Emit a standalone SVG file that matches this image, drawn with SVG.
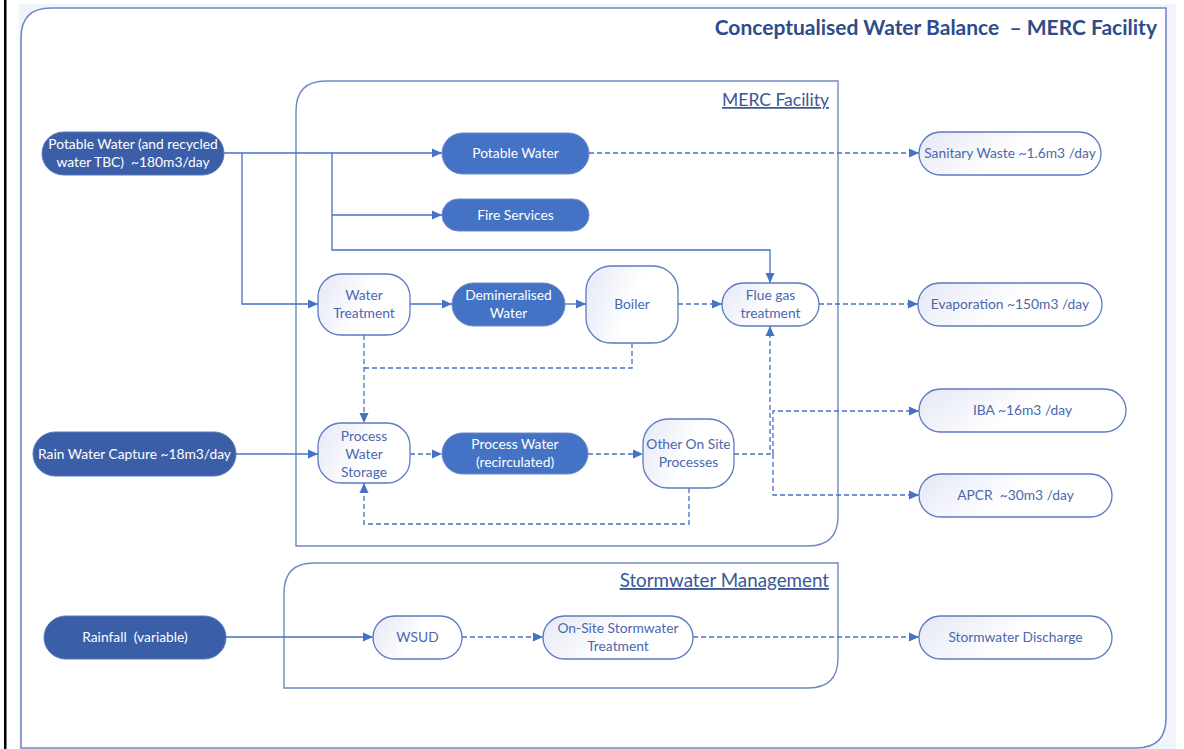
<svg xmlns="http://www.w3.org/2000/svg" width="1184" height="749" viewBox="0 0 1184 749">
<defs>
<style>
text{white-space:pre}
.frame{fill:none;stroke:#6f89c2;stroke-width:1.4}
.dark{fill:#3b5ea8;stroke:#5a78b8;stroke-width:1}
.mid{fill:#4472c4;stroke:#6a8bc9;stroke-width:1}
.light{fill:url(#lg);stroke:#5b7bc2;stroke-width:1.3}
.tw{font-family:Lato,"Open Sans","Liberation Sans",sans-serif;font-size:13.8px;fill:#ffffff;text-anchor:middle}
.tb{font-family:Lato,"Open Sans","Liberation Sans",sans-serif;font-size:13.8px;fill:#4a68ad;text-anchor:middle}
.lbl{font-family:Lato,"Open Sans","Liberation Sans",sans-serif;font-size:17.5px;fill:#3a5797;text-anchor:end;text-decoration:underline}
.c{fill:none;stroke:#4472c4;stroke-width:1.3}
.d{stroke-dasharray:5 3}
.a{marker-end:url(#arr)}
</style>
<linearGradient id="lg" x1="0" y1="0" x2="1" y2="0.3">
<stop offset="0" stop-color="#e4e7f5"/>
<stop offset="0.6" stop-color="#ffffff"/>
<stop offset="1" stop-color="#ffffff"/>
</linearGradient>
<marker id="arr" markerUnits="userSpaceOnUse" markerWidth="11" markerHeight="10" refX="10" refY="5" orient="auto">
<path d="M0,0.5 L10,5 L0,9.5 z" fill="#4472c4"/>
</marker>
</defs>
<rect x="0" y="0" width="1184" height="749" fill="#ffffff"/>
<rect x="19" y="4" width="1157" height="745" fill="#f1f4fa"/>
<rect x="4" y="0" width="2.5" height="749" fill="#000000"/>
<g id="frame-outer">
<path d="M51,8 H1166 V718 Q1166,748 1136,748 H21 V38 Q21,8 51,8 Z" fill="#ffffff" stroke="#7089c3" stroke-width="1.6"/>
<text x="1157" y="35" font-family="Lato,'Open Sans','Liberation Sans',sans-serif" font-size="21" font-weight="bold" fill="#2f4b8a" text-anchor="end">Conceptualised Water Balance  – MERC Facility</text>
</g>
<g id="merc-facility">
<path class="frame" d="M326,81 H838 V516 Q838,546 808,546 H296 V111 Q296,81 326,81 Z"/>
<text class="lbl" x="829" y="106">MERC Facility</text>
</g>
<g id="stormwater-management">
<path class="frame" d="M314,563 H838 V658 Q838,688 808,688 H284 V593 Q284,563 314,563 Z"/>
<text class="lbl" x="829" y="587" style="font-size:18.8px">Stormwater Management</text>
</g>
<g id="connectors">
<path class="c a" d="M224,153 H442"/>
<path class="c a" d="M242,153 V304 H318"/>
<path class="c a" d="M332,153 V250 H770 V283"/>
<path class="c a" d="M332,215 H442"/>
<path class="c a" d="M410,304 H452"/>
<path class="c a" d="M565,304 H586"/>
<path class="c d a" d="M678,304 H722"/>
<path class="c d a" d="M819,304 H918"/>
<path class="c d a" d="M589,153 H919"/>
<path class="c d a" d="M364,335 V423"/>
<path class="c d" d="M632,343 V368 H364"/>
<path class="c a" d="M236,454 H318"/>
<path class="c d a" d="M410,454 H442"/>
<path class="c d a" d="M588,454 H643"/>
<path class="c d a" d="M689,488 V524 H364 V483"/>
<path class="c d a" d="M734,454 H770 V326"/>
<path class="c d a" d="M773,454 V411 H919"/>
<path class="c d a" d="M773,454 V495 H919"/>
<path class="c a" d="M226,637 H373"/>
<path class="c d a" d="M462,637 H543"/>
<path class="c d a" d="M693,637 H919"/>
</g>
<g id="n-potable-source">
<rect class="dark" x="42" y="132" width="182" height="43" rx="21.5"/>
<text class="tw" x="133" y="149">Potable Water (and recycled</text>
<text class="tw" x="133" y="167">water TBC)  ~180m3/day</text>
</g>
<g id="n-rain-capture">
<rect class="dark" x="33" y="432" width="203" height="44" rx="22"/>
<text class="tw" x="134.5" y="459">Rain Water Capture ~18m3/day</text>
</g>
<g id="n-rainfall">
<rect class="dark" x="44" y="616" width="182" height="43" rx="21.5"/>
<text class="tw" x="135" y="642">Rainfall  (variable)</text>
</g>
<g id="n-potable">
<rect class="mid" x="442" y="133" width="147" height="41" rx="20.5"/>
<text class="tw" x="515.5" y="158">Potable Water</text>
</g>
<g id="n-fire">
<rect class="mid" x="442" y="199" width="147" height="32" rx="16"/>
<text class="tw" x="515.5" y="220">Fire Services</text>
</g>
<g id="n-demin">
<rect class="mid" x="452" y="283" width="113" height="43" rx="21.5"/>
<text class="tw" x="508.5" y="300">Demineralised</text>
<text class="tw" x="508.5" y="318">Water</text>
</g>
<g id="n-process-water">
<rect class="mid" x="442" y="433" width="146" height="41" rx="20.5"/>
<text class="tw" x="515" y="449">Process Water</text>
<text class="tw" x="515" y="467">(recirculated)</text>
</g>
<g id="n-water-treatment">
<rect class="light" x="318" y="274" width="92" height="61" rx="23"/>
<text class="tb" x="364" y="300">Water</text>
<text class="tb" x="364" y="318">Treatment</text>
</g>
<g id="n-boiler">
<rect class="light" x="586" y="266" width="92" height="77" rx="25"/>
<text class="tb" x="632" y="309">Boiler</text>
</g>
<g id="n-flue">
<rect class="light" x="722" y="283" width="97" height="43" rx="21.5"/>
<text class="tb" x="770.5" y="300">Flue gas</text>
<text class="tb" x="770.5" y="318">treatment</text>
</g>
<g id="n-pws">
<rect class="light" x="318" y="423" width="92" height="60" rx="23"/>
<text class="tb" x="364" y="441">Process</text>
<text class="tb" x="364" y="459">Water</text>
<text class="tb" x="364" y="477">Storage</text>
</g>
<g id="n-other">
<rect class="light" x="643" y="419" width="91" height="69" rx="25"/>
<text class="tb" x="688.5" y="449">Other On Site</text>
<text class="tb" x="688.5" y="467">Processes</text>
</g>
<g id="n-sanitary">
<rect class="light" x="919" y="132" width="182" height="43" rx="21.5"/>
<text class="tb" x="1010" y="158">Sanitary Waste ~1.6m3 /day</text>
</g>
<g id="n-evap">
<rect class="light" x="918" y="283" width="184" height="43" rx="21.5"/>
<text class="tb" x="1010" y="309">Evaporation ~150m3 /day</text>
</g>
<g id="n-iba">
<rect class="light" x="919" y="389" width="207" height="43" rx="21.5"/>
<text class="tb" x="1022.5" y="415">IBA ~16m3 /day</text>
</g>
<g id="n-apcr">
<rect class="light" x="919" y="474" width="193" height="43" rx="21.5"/>
<text class="tb" x="1015.5" y="500">APCR  ~30m3 /day</text>
</g>
<g id="n-wsud">
<rect class="light" x="373" y="616" width="89" height="43" rx="21.5"/>
<text class="tb" x="417.5" y="642">WSUD</text>
</g>
<g id="n-onsite-storm">
<rect class="light" x="543" y="616" width="150" height="43" rx="21.5"/>
<text class="tb" x="618" y="633">On-Site Stormwater</text>
<text class="tb" x="618" y="651">Treatment</text>
</g>
<g id="n-discharge">
<rect class="light" x="919" y="616" width="193" height="43" rx="21.5"/>
<text class="tb" x="1015.5" y="642">Stormwater Discharge</text>
</g>
</svg>
